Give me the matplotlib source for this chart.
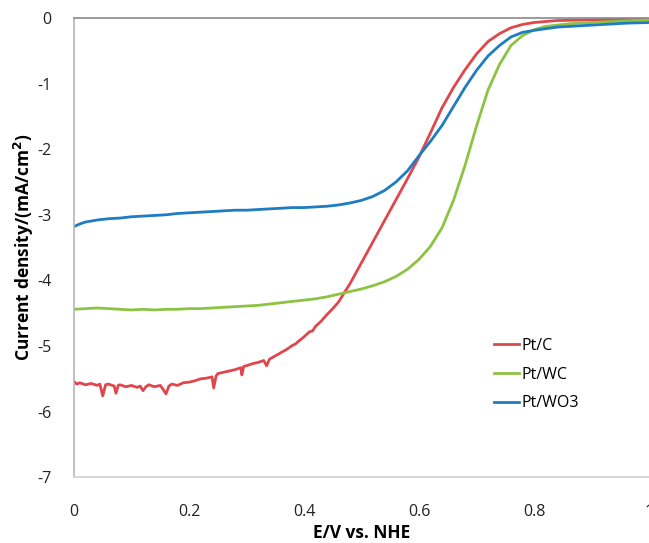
import matplotlib
matplotlib.use("Agg")
import matplotlib.pyplot as plt

# Pt/C
ptc_x = [0.00, 0.005, 0.01, 0.02, 0.03, 0.04, 0.045, 0.05, 0.055, 0.06, 0.07, 0.073, 0.077,
         0.08, 0.09, 0.10, 0.11, 0.115, 0.12, 0.125, 0.13, 0.14, 0.15, 0.155, 0.16, 0.165,
         0.17, 0.18, 0.19, 0.20, 0.21, 0.22, 0.23, 0.24, 0.243, 0.247, 0.25, 0.26, 0.27,
         0.28, 0.29, 0.292, 0.295, 0.30, 0.31, 0.32, 0.33, 0.335, 0.34, 0.35, 0.36, 0.37,
         0.38, 0.385, 0.39, 0.40, 0.41, 0.415, 0.42, 0.43, 0.44, 0.45, 0.46, 0.48, 0.50,
         0.52, 0.54, 0.56, 0.58, 0.60, 0.62, 0.64, 0.66, 0.68, 0.70, 0.72, 0.74, 0.76,
         0.78, 0.80, 0.84, 0.90, 1.00]
ptc_y = [-5.54, -5.58, -5.56, -5.59, -5.57, -5.60, -5.58, -5.76, -5.59, -5.58, -5.61, -5.72, -5.60,
         -5.59, -5.62, -5.60, -5.63, -5.61, -5.68, -5.62, -5.59, -5.62, -5.60, -5.66, -5.73, -5.61,
         -5.58, -5.60, -5.56, -5.55, -5.53, -5.50, -5.49, -5.47, -5.64, -5.46, -5.42, -5.40, -5.38,
         -5.36, -5.33, -5.44, -5.31, -5.30, -5.27, -5.25, -5.22, -5.30, -5.20, -5.15, -5.10, -5.05,
         -4.99, -4.97, -4.93, -4.86, -4.78, -4.77, -4.70, -4.62, -4.52, -4.43, -4.33, -4.05, -3.73,
         -3.41, -3.09, -2.77, -2.45, -2.12, -1.75, -1.37, -1.06, -0.79, -0.55, -0.36, -0.24, -0.15,
         -0.10, -0.07, -0.04, -0.03, -0.02]

# Pt/WC
ptwc_x = [0.00, 0.02, 0.04, 0.06, 0.08, 0.10, 0.12, 0.14, 0.16, 0.18, 0.20, 0.22, 0.24, 0.26,
          0.28, 0.30, 0.32, 0.34, 0.36, 0.38, 0.40, 0.42, 0.44, 0.46, 0.48, 0.50, 0.52, 0.54,
          0.56, 0.58, 0.60, 0.62, 0.64, 0.66, 0.68, 0.70, 0.72, 0.74, 0.76, 0.78, 0.80, 0.82,
          0.86, 0.90, 0.95, 1.00]
ptwc_y = [-4.44, -4.43, -4.42, -4.43, -4.44, -4.45, -4.44, -4.45, -4.44, -4.44, -4.43, -4.43,
          -4.42, -4.41, -4.40, -4.39, -4.38, -4.36, -4.34, -4.32, -4.30, -4.28, -4.25, -4.21,
          -4.17, -4.13, -4.08, -4.02, -3.94, -3.83, -3.68, -3.48, -3.20, -2.78, -2.25, -1.65,
          -1.10, -0.71, -0.42, -0.27, -0.18, -0.13, -0.09, -0.07, -0.05, -0.03]

# Pt/WO3
ptwo3_x = [0.00, 0.01, 0.02, 0.04, 0.06, 0.08, 0.10, 0.12, 0.14, 0.16, 0.18, 0.20, 0.22, 0.24,
           0.26, 0.28, 0.30, 0.32, 0.34, 0.36, 0.38, 0.40, 0.42, 0.44, 0.46, 0.48, 0.50, 0.52,
           0.54, 0.56, 0.58, 0.60, 0.62, 0.64, 0.66, 0.68, 0.70, 0.72, 0.74, 0.76, 0.78, 0.80,
           0.84, 0.88, 0.92, 0.96, 1.00]
ptwo3_y = [-3.18, -3.14, -3.11, -3.08, -3.06, -3.05, -3.03, -3.02, -3.01, -3.00, -2.98, -2.97,
           -2.96, -2.95, -2.94, -2.93, -2.93, -2.92, -2.91, -2.90, -2.89, -2.89, -2.88, -2.87,
           -2.85, -2.82, -2.78, -2.72, -2.63, -2.50, -2.33, -2.10, -1.88, -1.64, -1.35, -1.06,
           -0.80, -0.58, -0.42, -0.29, -0.22, -0.19, -0.14, -0.12, -0.10, -0.08, -0.07]

xticks = [0, 0.2, 0.4, 0.6, 0.8, 1]
xticklabels = ["0", "0.2", "0.4", "0.6", "0.8", "1"]
yticks = [0, -1, -2, -3, -4, -5, -6, -7]
yticklabels = ["0", "-1", "-2", "-3", "-4", "-5", "-6", "-7"]

plt.rcParams["font.family"] = ["Open Sans", "DejaVu Sans"]
plt.rcParams["axes.unicode_minus"] = False

fig = plt.figure(figsize=(6.49, 5.43), dpi=100)
ax = fig.add_axes([0.114, 0.121, 0.886, 0.846])

lw = 2.0
ax.plot(ptc_x, ptc_y, color="#e0474c", lw=lw, label="Pt/C")
ax.plot(ptwc_x, ptwc_y, color="#8cc342", lw=lw, label="Pt/WC")
ax.plot(ptwo3_x, ptwo3_y, color="#1f7cc2", lw=lw, label="Pt/WO3")

ax.set_xlim(0, 1)
ax.set_ylim(-7, 0)
ax.set_xticks(xticks)
ax.set_xticklabels(xticklabels)
ax.set_yticks(yticks)
ax.set_yticklabels(yticklabels)
ax.tick_params(length=0, labelsize=11.5, colors="#222222")
ax.tick_params(axis="x", pad=19)
ax.tick_params(axis="y", pad=16)

ax.spines["right"].set_visible(False)
ax.spines["top"].set_color("#8a8a8a")
ax.spines["left"].set_color("#b5b5b5")
ax.spines["bottom"].set_color("#d0d0d0")
for s in ("top", "left", "bottom"):
    ax.spines[s].set_linewidth(1.2)

ax.set_xlabel("E/V vs. NHE", fontsize=12.5, fontweight="bold", labelpad=3)
ax.set_ylabel("Current density/(mA/cm$^{\\mathbf{2}}$)", fontsize=12.5, fontweight="bold",
              labelpad=1)

ax.legend(loc="upper left", bbox_to_anchor=(0.705, 0.335), frameon=False, fontsize=11.5,
          handlelength=1.6, handletextpad=0.15, labelspacing=0.8)

fig.savefig("out.png", dpi=100)
